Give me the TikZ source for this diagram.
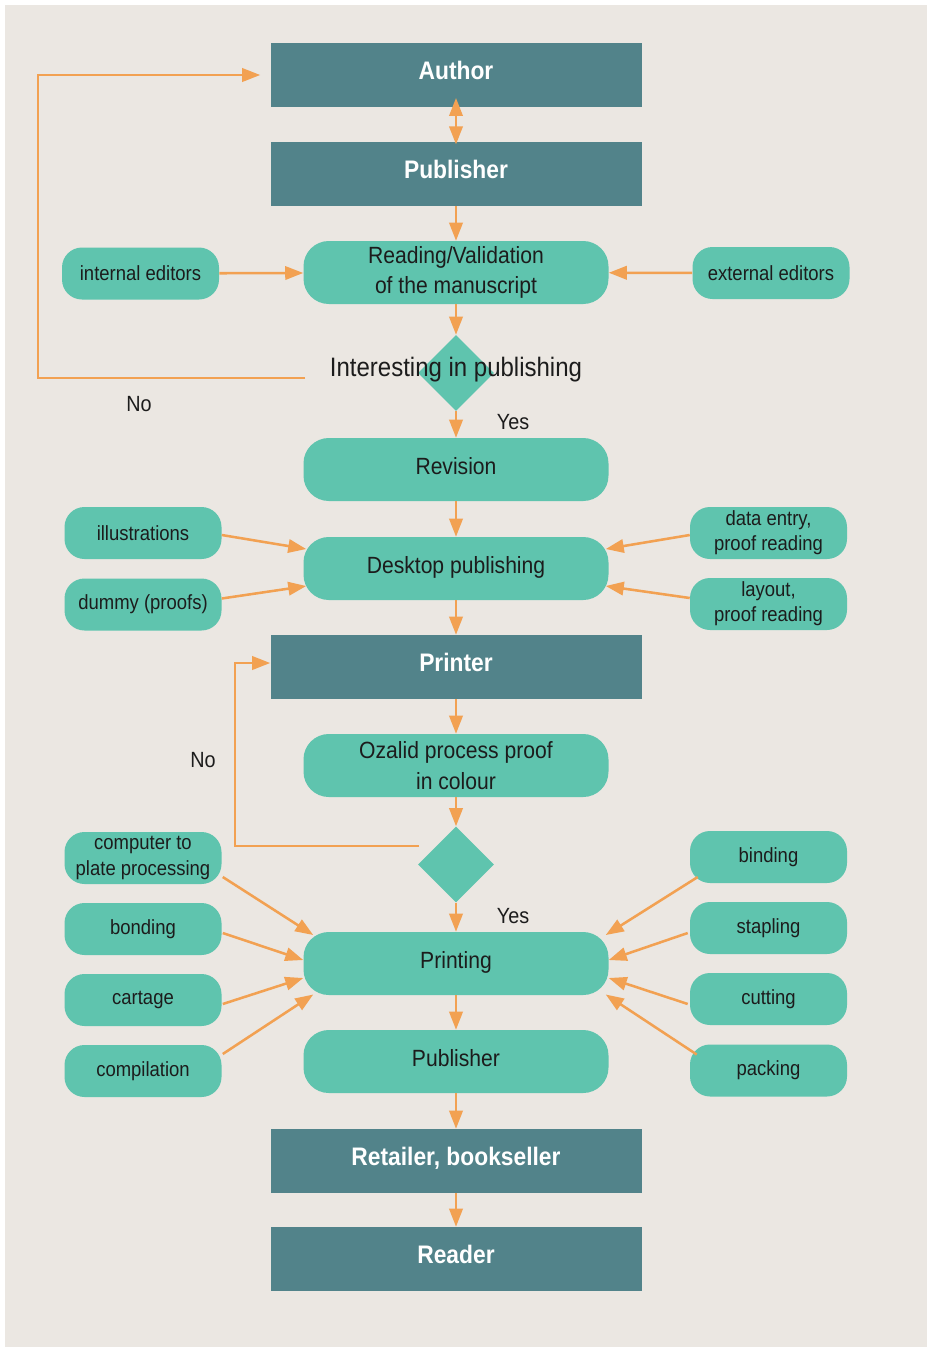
\documentclass[tikz,border=0pt]{standalone}
\usepackage{fontspec}
\setmainfont{Liberation Sans}[FakeStretch=0.9]
\usetikzlibrary{positioning,shapes.geometric,arrows.meta,calc}

\definecolor{bgbeige}{HTML}{EBE7E2}
\definecolor{darkteal}{HTML}{52838A}
\definecolor{lightteal}{HTML}{5FC4AE}
\definecolor{flowline}{HTML}{F2A152}
\definecolor{inktext}{HTML}{1C1C1C}

\tikzset{
  darkbox/.style={fill=darkteal, text=white, minimum width=278.25pt, minimum height=48pt, inner sep=0pt, text height=10pt, text depth=4pt, font=\fontsize{19pt}{23pt}\selectfont\bfseries},
  procbox/.style={fill=lightteal, text=inktext, rounded corners=19pt, minimum width=228.75pt, minimum height=47.25pt, inner sep=0pt, align=center, font=\fontsize{17.6pt}{23pt}\selectfont},
  oneline/.style={text height=12pt, text depth=4.6pt},
  sidebox/.style={fill=lightteal, text=inktext, rounded corners=15pt, minimum width=117.75pt, minimum height=39pt, inner sep=0pt, align=center, font=\fontsize{15.4pt}{19pt}\selectfont},
  decision/.style={diamond, fill=lightteal, minimum width=57pt, minimum height=57pt, inner sep=0pt},
  flow/.style={draw=flowline, line width=1.9pt, ->},
  answer/.style={text=inktext, font=\fontsize{16.5pt}{20pt}\selectfont},
}

\begin{document}
\begin{tikzpicture}[x=0.75pt, y=-0.75pt, >={Triangle[length=13.5pt, width=10pt]}]
	\pgfmathsetmacro{\MidX}{456}
	\pgfmathsetmacro{\LeftX}{143}
	\pgfmathsetmacro{\RightX}{768.5}
	% background
	\useasboundingbox (0,0) rectangle (927,1347);
	\fill[bgbeige] (5,5) rectangle (927,1347);
	% main column
	\node[darkbox] (author) at (\MidX,75) {Author};
	\node[darkbox] (pub) at (\MidX,174) {Publisher};
	\node[procbox] (read) at (\MidX,272.5) {Reading/Validation\\of the manuscript};
	\node[decision] (dec1) at (\MidX,373) {};
	\node[text=inktext, font=\fontsize{20pt}{24pt}\selectfont] (dec1text) at (\MidX,370) {Interesting in publishing};
	\node[procbox, oneline] (rev) at (\MidX,469.5) {Revision};
	\node[procbox, oneline] (desk) at (\MidX,568.5) {Desktop publishing};
	\node[darkbox] (printer) at (\MidX,667) {Printer};
	\node[procbox] (ozalid) at (\MidX,765.5) {Ozalid process proof\\in colour};
	\node[decision] (dec2) at (\MidX,864.5) {};
	\node[procbox, oneline] (print) at (\MidX,963.5) {Printing};
	\node[procbox, oneline] (pubtwo) at (\MidX,1061.5) {Publisher};
	\node[darkbox] (retail) at (\MidX,1161) {Retailer, bookseller};
	\node[darkbox] (reader) at (\MidX,1259) {Reader};
	% side nodes
	\node[sidebox] (int) at (140.5,273.5) {internal editors};
	\node[sidebox] (ext) at (771,273) {external editors};
	\node[sidebox] (illus) at (\LeftX,533) {illustrations};
	\node[sidebox] (dummy) at (\LeftX,604.5) {dummy (proofs)};
	\node[sidebox] (data) at (\RightX,533) {data entry,\\proof reading};
	\node[sidebox] (layout) at (\RightX,604) {layout,\\proof reading};
	\node[sidebox] (comp) at (\LeftX,858) {computer to\\plate processing};
	\node[sidebox] (bond) at (\LeftX,929) {bonding};
	\node[sidebox] (cart) at (\LeftX,1000) {cartage};
	\node[sidebox] (compil) at (\LeftX,1071) {compilation};
	\node[sidebox] (bind) at (\RightX,857) {binding};
	\node[sidebox] (stap) at (\RightX,928) {stapling};
	\node[sidebox] (cut) at (\RightX,999) {cutting};
	\node[sidebox] (pack) at (\RightX,1070.5) {packing};
	% answers
	\node[answer] (yesone) at (513,422) {Yes};
	\node[answer] (noone) at (139,404) {No};
	\node[answer] (yestwo) at (513,916) {Yes};
	\node[answer] (notwo) at (203,760) {No};
	% main flow
	\draw[flow, <->, shorten <=-7pt, shorten >=-2pt] (author) -- (pub);
	\draw[flow] (pub) -- (read);
	\draw[flow] (read) -- (dec1);
	\draw[flow] (dec1) -- (rev);
	\draw[flow] (rev) -- (desk);
	\draw[flow] (desk) -- (printer);
	\draw[flow] (printer) -- (ozalid);
	\draw[flow] (ozalid) -- (dec2);
	\draw[flow] (dec2) -- (print);
	\draw[flow] (print) -- (pubtwo);
	\draw[flow] (pubtwo) -- (retail);
	\draw[flow] (retail) -- (reader);
	% feedback loops
	\coordinate (noonestart) at (305,378);
	\coordinate (noonecorner) at (38,378);
	\draw[flow, shorten >=7.5pt] (noonestart) -- (noonecorner) |- (author.west);
	\coordinate (notwostart) at (419,846);
	\coordinate (notwocorner) at (235,846);
	\draw[flow] (notwostart) -- (notwocorner) |- ($(printer.west)+(0,-4)$);
	% inputs
	\draw[flow] (int) -- (read);
	\draw[flow] (ext) -- (read);
	\draw[flow] ($(illus.east)+(0,2)$) -- ($(desk.west)+(3,-19.5)$);
	\draw[flow] ($(dummy.east)+(0,-6)$) -- ($(desk.west)+(3,17.5)$);
	\draw[flow] ($(data.west)+(0,2)$) -- ($(desk.east)+(-3,-19.5)$);
	\draw[flow] ($(layout.west)+(0,-6)$) -- ($(desk.east)+(-3,17.5)$);
	\draw[flow] ($(comp.east)+(1,19)$) -- ($(print.west)+(10,-28.5)$);
	\draw[flow] ($(bond.east)+(1,4)$) -- ($(print.west)+(0,-3.5)$);
	\draw[flow] ($(cart.east)+(1,4)$) -- ($(print.west)+(0,14.5)$);
	\draw[flow] ($(compil.east)+(1,-17)$) -- ($(print.west)+(10,31)$);
	\draw[flow] ($(bind.west)+(8,20)$) -- ($(print.east)+(-3,-28.5)$);
	\draw[flow] ($(stap.west)+(-2,5)$) -- ($(print.east)+(0,-3.5)$);
	\draw[flow] ($(cut.west)+(-2,5)$) -- ($(print.east)+(0,14.5)$);
	\draw[flow] ($(pack.west)+(7,-16)$) -- ($(print.east)+(-3,31)$);
\end{tikzpicture}
\end{document}
